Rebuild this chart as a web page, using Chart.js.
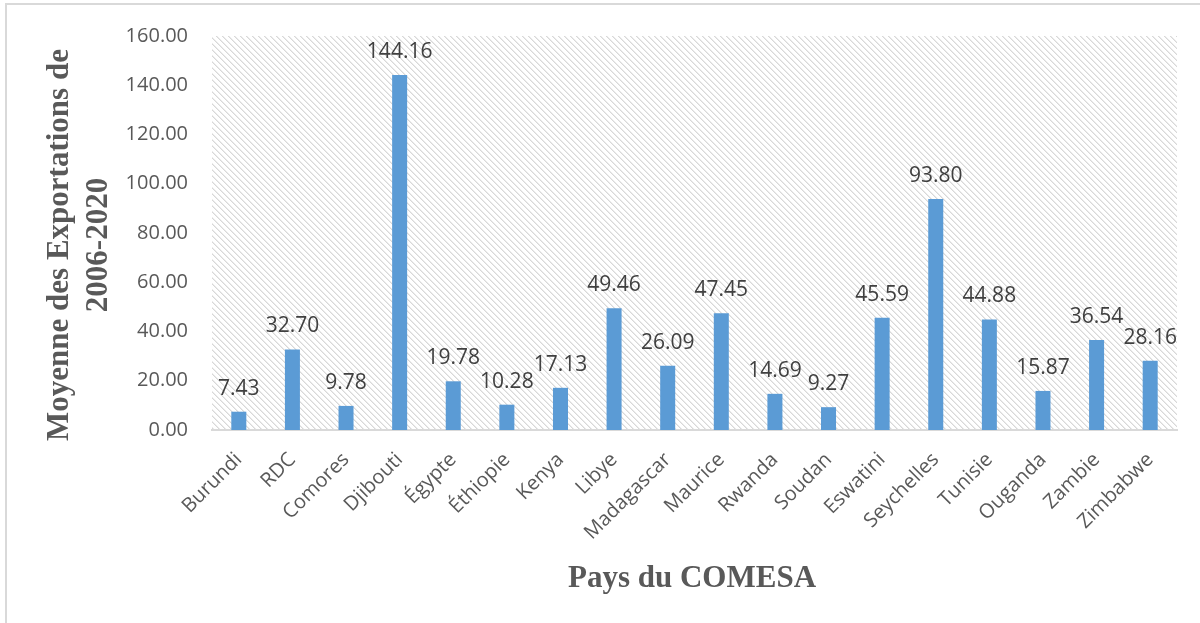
<!DOCTYPE html>
<html>
<head>
<meta charset="utf-8">
<script src="https://cdn.jsdelivr.net/npm/chart.js@4.4.0/dist/chart.umd.min.js"></script>
<style>
    body { margin: 0; background: #fff; }
    #wrap { width: 1200px; height: 623px; position: relative; }
</style>
</head>
<body>
<div id="wrap"><canvas id="exports-chart" width="1200" height="623"></canvas></div>
<script>
const pays = ['Burundi', 'RDC', 'Comores', 'Djibouti', 'Égypte', 'Éthiopie', 'Kenya', 'Libye', 'Madagascar',
    'Maurice', 'Rwanda', 'Soudan', 'Eswatini', 'Seychelles', 'Tunisie', 'Ouganda', 'Zambie', 'Zimbabwe']
const moyennes = [7.43, 32.70, 9.78, 144.16, 19.78, 10.28, 17.13, 49.46, 26.09,
    47.45, 14.69, 9.27, 45.59, 93.80, 44.88, 15.87, 36.54, 28.16]
const yTicks = [0, 20, 40, 60, 80, 100, 120, 140, 160]
const titreY = ['Moyenne des Exportations de', '2006-2020']
const titreX = 'Pays du COMESA'

const tickFont = { family: "'Open Sans', sans-serif", size: 20 }
const titleFont = "bold 31px 'Liberation Serif', 'Times New Roman', serif"

// striped background behind the bars (light downward diagonal)
function hatchPattern(ctx){
    const tile = document.createElement('canvas')
    tile.width = 6
    tile.height = 6
    const g = tile.getContext('2d')
    g.fillStyle = '#ffffff'
    g.fillRect(0, 0, 6, 6)
    for (let y = 0; y < 6; y++) {
        for (let x = 0; x < 6; x++) {
            const d = ((x - y) % 6 + 6) % 6
            if (d === 0) { g.fillStyle = '#d8d8d8'; g.fillRect(x, y, 1, 1) }
            if (d === 1) { g.fillStyle = '#ebebeb'; g.fillRect(x, y, 1, 1) }
        }
    }
    return ctx.createPattern(tile, 'repeat')
}

const fondPlugin = {
    id: 'fond',
    beforeDraw(chart){
        const ctx = chart.ctx
        const a = chart.chartArea
        ctx.save()
        // frame lines on top and left
        ctx.fillStyle = '#d9d9d9'
        ctx.fillRect(5, 3, 1195, 2)
        ctx.fillRect(5, 3, 2, 620)
        ctx.fillStyle = hatchPattern(ctx)
        ctx.fillRect(a.left, a.top, a.right - a.left, a.bottom - a.top)
        ctx.restore()
    }
}

const etiquettesPlugin = {
    id: 'etiquettes',
    afterDatasetsDraw(chart){
        const ctx = chart.ctx
        const meta = chart.getDatasetMeta(0)
        ctx.save()
        ctx.font = "21px 'Open Sans', sans-serif"
        ctx.fillStyle = '#404040'
        ctx.textAlign = 'center'
        ctx.textBaseline = 'alphabetic'
        meta.data.forEach(function(bar, i){
            ctx.fillText(moyennes[i].toFixed(2), bar.x, bar.y - 17)
        })
        ctx.restore()
    },
    afterDraw(chart){
        const ctx = chart.ctx
        ctx.save()
        ctx.font = titleFont
        ctx.fillStyle = '#595959'
        ctx.textAlign = 'center'
        ctx.textBaseline = 'alphabetic'
        // axis titles
        ctx.fillText(titreX, 692, 587)
        ctx.translate(0, 245)
        ctx.rotate(-Math.PI / 2)
        ctx.fillText(titreY[0], 0, 68)
        ctx.fillText(titreY[1], 0, 107)
        ctx.restore()
    }
}

const ctx = document.getElementById('exports-chart').getContext('2d')
const config = {
    type: 'bar',
    data: {
        labels: pays,
        datasets: [{
            data: moyennes,
            backgroundColor: '#5b9bd5',
            barPercentage: 0.28,
            categoryPercentage: 1
        }]
    },
    options: {
        responsive: false,
        animation: false,
        layout: {
            padding: { top: 33, right: 23, left: 0, bottom: 0 }
        },
        plugins: {
            legend: { display: false },
            tooltip: { enabled: false },
            title: { display: false }
        },
        scales: {
            x: {
                grid: { display: false, drawTicks: false },
                border: { display: true, color: '#d9d9d9', width: 2 },
                ticks: {
                    color: '#595959',
                    font: tickFont,
                    minRotation: 45,
                    maxRotation: 45,
                    padding: 18
                },
                afterFit: function(scale){
                    scale.height = 193
                }
            },
            y: {
                min: 0,
                max: 160,
                grid: { display: false, drawTicks: false },
                border: { display: false },
                afterBuildTicks: function(scale){
                    scale.ticks = yTicks.map(function(v){ return { value: v } })
                },
                ticks: {
                    color: '#595959',
                    font: tickFont,
                    padding: 24,
                    callback: function(v){ return Number(v).toFixed(2) }
                },
                afterFit: function(scale){
                    scale.width = 212
                }
            }
        }
    },
    plugins: [fondPlugin, etiquettesPlugin]
}
const myChart = new Chart(ctx, config)
</script>
</body>
</html>
